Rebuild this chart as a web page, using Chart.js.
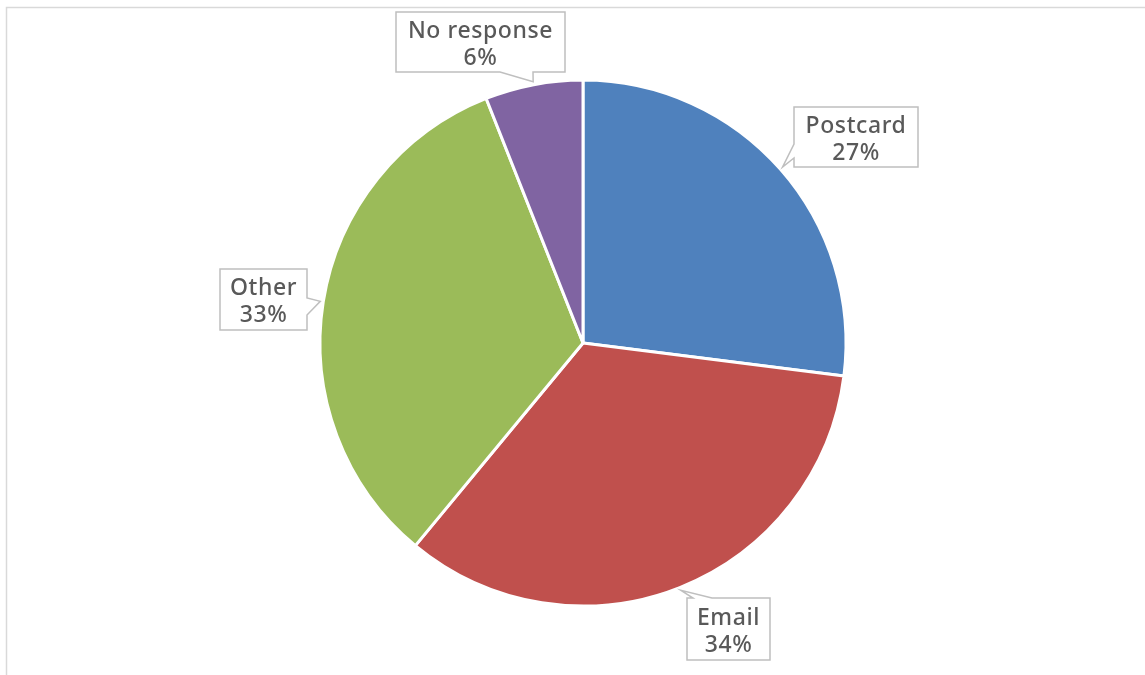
<!DOCTYPE html>
<html>
<head>
<meta charset="utf-8">
<title>Response channel</title>
<script src="https://cdn.jsdelivr.net/npm/chart.js@4.4.1/dist/chart.umd.min.js"></script>
<style>
    html, body { margin: 0; padding: 0; background: #ffffff; overflow: hidden; }
    #wrap { width: 1145px; height: 675px; position: relative; }
</style>
</head>
<body>
<div id="wrap"><canvas id="responseChart"></canvas></div>
<script>
const categories = ["Postcard", "Email", "Other", "No response"];
const shares = [27, 34, 33, 6];
const sliceColors = ["#4f81bd", "#c0504d", "#9bbb59", "#8064a2"];

// callout boxes: x, y, w, h, which edge the pointer leaves from, and the base span on that edge
const calloutBoxes = [
    { x: 794, y: 107, w: 124, h: 60, side: "left", from: 144, to: 158 },
    { x: 687, y: 598, w: 83, h: 62, side: "top", from: 693, to: 712 },
    { x: 220, y: 269, w: 87, h: 61, side: "right", from: 298, to: 315 },
    { x: 396, y: 12, w: 169, h: 60, side: "bottom", from: 500, to: 533 }
];

const frameAndCallouts = {
    id: "frameAndCallouts",
    beforeDraw(chart) {
        const c = chart.ctx;
        c.save();
        c.strokeStyle = "#d9d9d9";
        c.lineWidth = 1.5;
        c.beginPath();
        c.moveTo(6.5, chart.height);
        c.lineTo(6.5, 7.5);
        c.lineTo(chart.width, 7.5);
        c.stroke();
        c.restore();
    },
    afterDraw(chart) {
        const c = chart.ctx;
        const arcs = chart.getDatasetMeta(0).data;
        c.save();
        arcs.forEach((arc, i) => {
            const b = calloutBoxes[i];
            const mid = (arc.startAngle + arc.endAngle) / 2;
            const r = arc.outerRadius + 3;
            const tx = arc.x + Math.cos(mid) * r;
            const ty = arc.y + Math.sin(mid) * r;

            const L = b.x, T = b.y, R = b.x + b.w, B = b.y + b.h;
            c.beginPath();
            c.moveTo(L, T);
            if (b.side === "top") { c.lineTo(b.from, T); c.lineTo(tx, ty); c.lineTo(b.to, T); }
            c.lineTo(R, T);
            if (b.side === "right") { c.lineTo(R, b.from); c.lineTo(tx, ty); c.lineTo(R, b.to); }
            c.lineTo(R, B);
            if (b.side === "bottom") { c.lineTo(b.to, B); c.lineTo(tx, ty); c.lineTo(b.from, B); }
            c.lineTo(L, B);
            if (b.side === "left") { c.lineTo(L, b.to); c.lineTo(tx, ty); c.lineTo(L, b.from); }
            c.closePath();
            c.fillStyle = "#ffffff";
            c.fill();
            c.strokeStyle = "#bfbfbf";
            c.lineWidth = 1.5;
            c.stroke();

            c.fillStyle = "#595959";
            c.font = "500 23px 'Noto Sans', sans-serif";
            c.letterSpacing = "0.6px";
            c.textAlign = "center";
            c.textBaseline = "middle";
            const cx = L + b.w / 2, cy = T + b.h / 2;
            c.fillText(categories[i], cx, cy - 11);
            c.fillText(shares[i] + "%", cx, cy + 16);
        });
        c.restore();
    }
};

const ctx = document.getElementById("responseChart");

new Chart(ctx, {
    type: "pie",
    data: {
        labels: categories,
        datasets: [
            {
                data: shares,
                backgroundColor: sliceColors,
                borderColor: "#ffffff",
                borderWidth: 3,
                radius: 263
            }
        ]
    },
    options: {
        responsive: true,
        maintainAspectRatio: false,
        animation: false,
        layout: {
            padding: { left: 21, top: 11, right: 0, bottom: 0 }
        },
        plugins: {
            legend: { display: false },
            tooltip: { enabled: false }
        }
    },
    plugins: [frameAndCallouts]
});
</script>
</body>
</html>
